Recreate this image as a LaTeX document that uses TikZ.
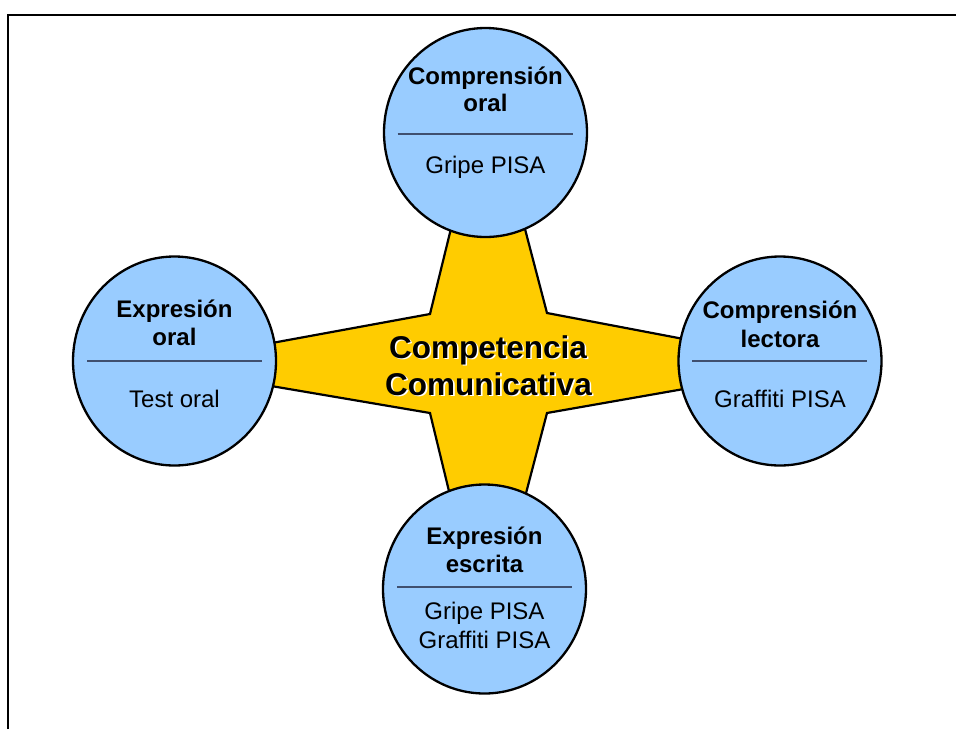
\documentclass[tikz,border=0pt]{standalone}
\usepackage{fontspec}
\setmainfont{Liberation Sans}
\usetikzlibrary{shapes.geometric,calc}
\definecolor{bubblefill}{HTML}{99CCFF}
\definecolor{starfill}{HTML}{FFCC00}
\definecolor{sepline}{HTML}{3F4F6F}
\newcommand\shadowedtext[1]{\makebox[0pt][l]{\hspace{1.6pt}\raisebox{-1.6pt}{\textcolor{white}{#1}}}#1}
\begin{document}
\begin{tikzpicture}[x=1pt,y=-1pt,
 bubble/.style={ellipse,draw=black,line width=2.3pt,fill=bubblefill,minimum width=203pt,minimum height=209pt,inner sep=0pt},
 title/.style={font=\fontsize{24}{24}\selectfont\bfseries,anchor=base,inner sep=0pt},
 sub/.style={font=\fontsize{24}{24}\selectfont,anchor=base,inner sep=0pt},
 ctext/.style={font=\fontsize{31.5}{31.5}\selectfont\bfseries,anchor=base,inner sep=0pt},
 sepl/.style={draw=sepline,line width=1.2pt},
 frameline/.style={draw=black,line width=2pt}]
\useasboundingbox (0,0) rectangle (956,729);
% frame
\coordinate (f1) at (8,729);
\coordinate (f2) at (8,15);
\coordinate (f3) at (956,15);
\draw[frameline] (f1) -- (f2) -- (f3);
% star
\draw[fill=starfill,line width=2.2pt,line join=miter]
 (458,200) -- (430,314) -- (250,347) -- (250,382.4) -- (430,413)
 -- (456,520) -- (519,520) -- (547,413) -- (710,384.4) -- (710,344)
 -- (547,313) -- (517.4,200) -- cycle;
% circles
\node[bubble] (top) at (485.5,132.5) {};
\node[bubble] (left) at (174.5,361) {};
\node[bubble] (right) at (780,361) {};
\node[bubble] (bottom) at (484.5,589) {};
% separators
\draw[sepl] ($(top.center)+(-88,1.5)$) -- ($(top.center)+(87,1.5)$);
\draw[sepl] ($(left.center)+(-87.5,0)$) -- ($(left.center)+(87.5,0)$);
\draw[sepl] ($(right.center)+(-88,0)$) -- ($(right.center)+(87,0)$);
\draw[sepl] ($(bottom.center)+(-87.5,-2)$) -- ($(bottom.center)+(87.5,-2)$);
% top texts
\node[title] (t1) at (485.5,84) {Comprensión};
\node[title] (t2) at (485.5,111) {oral};
\node[sub] (t3) at (485.5,173) {Gripe PISA};
% left texts
\node[title] (l1) at (174.5,317) {Expresión};
\node[title] (l2) at (174.5,345) {oral};
\node[sub] (l3) at (174.5,407) {Test oral};
% right texts
\node[title] (r1) at (780,318) {Comprensión};
\node[title] (r2) at (780,347) {lectora};
\node[sub] (r3) at (780,407) {Graffiti PISA};
% bottom texts
\node[title] (b1) at (484.5,544) {Expresión};
\node[title] (b2) at (484.5,572) {escrita};
\node[sub] (b3) at (484.5,619) {Gripe PISA};
\node[sub] (b4) at (484.5,648) {Graffiti PISA};
% centre text with white shadow
\node[ctext] (c1) at (488,358) {\shadowedtext{Competencia}};
\node[ctext] (c2) at (488.5,395) {\shadowedtext{Comunicativa}};
\end{tikzpicture}
\end{document}
